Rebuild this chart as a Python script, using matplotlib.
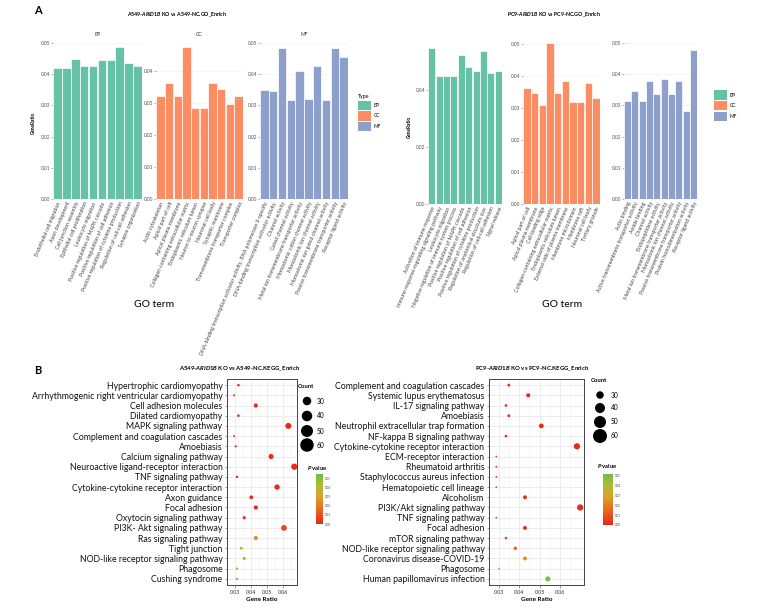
import numpy as np
import matplotlib
matplotlib.use('Agg')
import matplotlib.pyplot as plt
from matplotlib.patches import Patch
from matplotlib.colors import LinearSegmentedColormap, Normalize
from matplotlib.cm import ScalarMappable

plt.rcParams['font.family'] = ['Lato', 'DejaVu Sans']
plt.rcParams['mathtext.fontset'] = 'custom'
plt.rcParams['mathtext.rm'] = 'Lato:bold'
plt.rcParams['mathtext.it'] = 'Lato:bold:italic'
plt.rcParams['mathtext.bf'] = 'Lato:bold'

W, H = 761, 615

## GO enrichment, A549
a549_bp_terms = ['Endothelial cell migration', 'Axon development', 'Cell junction assembly',
                 'Epithelial cell proliferation', 'Leukocyte migration',
                 'Positive regulation of MAPK cascade', 'Positive regulation of cell adhesion',
                 'Positive regulation of cytokine production', 'Regulation of cell-cell adhesion',
                 'Synapse organization']
a549_bp_ratio = [0.0420, 0.0420, 0.0450, 0.0427, 0.0427, 0.0446, 0.0446, 0.0488, 0.0436, 0.0427]
a549_cc_terms = ['Actin cytoskeleton', 'Apical part of cell', 'Apical plasma membrane',
                 'Collagen-containing extracellular matrix', 'Endoplasmic reticulum lumen',
                 'Neuron to neuron synapse', 'Neuronal cell body', 'Synaptic membrane',
                 'Transmembrane transporter complex', 'Transporter complex']
a549_cc_ratio = [0.0321, 0.0363, 0.0321, 0.0474, 0.0283, 0.0283, 0.0363, 0.0344, 0.0297, 0.0321]
a549_mf_terms = ['DNA-binding transcription activator activity, RNA polymerase II-specific',
                 'DNA-binding transcription activator activity', 'Channel activity',
                 'Gated channel activity', 'Metal ion transmembrane transporter activity',
                 'Monoatomic cation channel activity', 'Monoatomic ion channel activity',
                 'Monoatomic ion gated channel activity', 'Passive transmembrane transporter activity',
                 'Receptor ligand activity']
a549_mf_ratio = [0.0350, 0.0345, 0.0483, 0.0316, 0.0409, 0.0322, 0.0427, 0.0316, 0.0483, 0.0455]

## GO enrichment, PC9
pc9_bp_terms = ['Activation of immune response', 'Immune response-regulating signaling pathway',
                'Leukocyte migration', 'Negative regulation of immune system process',
                'Positive regulation of MAPK cascade', 'Positive regulation of cell adhesion',
                'Positive regulation of cytokine production', 'Regulation of anatomical structure size',
                'Regulation of cell-cell adhesion', 'Signal release']
pc9_bp_ratio = [0.0546, 0.0450, 0.0450, 0.0450, 0.0522, 0.0481, 0.0467, 0.0538, 0.0458, 0.0467]
pc9_cc_terms = ['Apical part of cell', 'Apical plasma membrane', 'Cell leading edge',
                'Collagen-containing extracellular matrix', 'Endoplasmic reticulum lumen',
                'External side of plasma membrane', 'Membrane microdomain', 'Membrane raft',
                'Neuronal cell body', 'Tertiary granule']
pc9_cc_ratio = [0.0363, 0.0347, 0.0309, 0.0502, 0.0347, 0.0385, 0.0317, 0.0317, 0.0378, 0.0332]
pc9_mf_terms = ['Actin binding', 'Active transmembrane transporter activity', 'Amide binding',
                'Channel activity', 'Endopeptidase activity',
                'Metal ion transmembrane transporter activity', 'Monoatomic ion channel activity',
                'Passive transmembrane transporter activity', 'Protein homodimerization activity',
                'Receptor ligand activity']
pc9_mf_ratio = [0.0314, 0.0346, 0.0314, 0.0377, 0.0338, 0.0385, 0.0338, 0.0377, 0.0283, 0.0479]

## KEGG enrichment, A549 (top to bottom)
a549_kegg_terms = ['Hypertrophic cardiomyopathy', 'Arrhythmogenic right ventricular cardiomyopathy',
                   'Cell adhesion molecules', 'Dilated cardiomyopathy', 'MAPK signaling pathway',
                   'Complement and coagulation cascades', 'Amoebiasis', 'Calcium signaling pathway',
                   'Neuroactive ligand-receptor interaction', 'TNF signaling pathway',
                   'Cytokine-cytokine receptor interaction', 'Axon guidance', 'Focal adhesion',
                   'Oxytocin signaling pathway', 'PI3K- Akt signaling pathway', 'Ras signaling pathway',
                   'Tight junction', 'NOD-like receptor signaling pathway', 'Phagosome', 'Cushing syndrome']
a549_kegg_ratio = [0.0321, 0.0294, 0.0429, 0.0321, 0.0631, 0.0294, 0.0304, 0.0524, 0.0668, 0.0312,
                   0.0561, 0.0401, 0.0429, 0.0357, 0.0604, 0.0429, 0.0339, 0.0357, 0.0312, 0.0312]
a549_kegg_count = [29, 26, 39, 29, 57, 26, 27, 47, 60, 28, 50, 36, 39, 32, 54, 39, 30, 32, 28, 28]
a549_kegg_p = [0.001, 0.001, 0.001, 0.001, 0.001, 0.001, 0.001, 0.001, 0.001, 0.001,
               0.001, 0.001, 0.001, 0.002, 0.008, 0.026, 0.035, 0.039, 0.044, 0.048]

## KEGG enrichment, PC9 (top to bottom)
pc9_kegg_terms = ['Complement and coagulation cascades', 'Systemic lupus erythematosus',
                  'IL-17 signaling pathway', 'Amoebiasis', 'Neutrophil extracellular trap formation',
                  'NF-kappa B signaling pathway', 'Cytokine-cytokine receptor interaction',
                  'ECM-receptor interaction', 'Rheumatoid arthritis', 'Staphylococcus aureus infection',
                  'Hematopoietic cell lineage', 'Alcoholism', 'PI3K/Akt signaling pathway',
                  'TNF signaling pathway', 'Focal adhesion', 'mTOR signaling pathway',
                  'NOD-like receptor signaling pathway', 'Coronavirus disease-COVID-19',
                  'Phagosome', 'Human papillomavirus infection']
pc9_kegg_ratio = [0.0348, 0.0444, 0.0334, 0.0348, 0.0509, 0.0334, 0.0685, 0.0286, 0.0286, 0.0286,
                  0.0286, 0.0428, 0.0701, 0.0286, 0.0428, 0.0334, 0.0380, 0.0428, 0.0300, 0.0541]
pc9_kegg_count = [30, 38, 29, 30, 44, 29, 59, 25, 25, 25, 25, 37, 60, 25, 37, 29, 33, 37, 26, 47]
pc9_kegg_p = [0.001, 0.001, 0.001, 0.001, 0.001, 0.001, 0.001, 0.001, 0.001, 0.001,
              0.001, 0.001, 0.001, 0.001, 0.002, 0.008, 0.013, 0.025, 0.030, 0.050]

count_levels = [30, 40, 50, 60]
type_names = ['BP', 'CC', 'MF']
type_colors = ['#66C2A5', '#FC8D62', '#8DA0CB']

pcmap = LinearSegmentedColormap.from_list('pval', [(0, '#e8261d'), (0.28, '#e8661e'),
                                                   (0.55, '#d9a126'), (0.78, '#aebb36'),
                                                   (1, '#6cbd45')])

fig = plt.figure(figsize=(W / 100, H / 100), dpi=100)


def px_axes(x0, y0, x1, y1):
    return fig.add_axes([x0 / W, 1 - y1 / H, (x1 - x0) / W, (y1 - y0) / H])


def ftext(x, y, s, **kw):
    fig.text(x / W, 1 - y / H, s, **kw)


def go_facet(x0, x1, top, bottom, terms, ratio, color, ymax, yticks, strip=None):
    ax = px_axes(x0, top, x1, bottom)
    n = len(terms)
    ax.bar(np.arange(n), ratio, width=0.96, color=color, edgecolor='white', linewidth=0.5, zorder=2)
    ax.set_xlim(-0.5, n - 0.5)
    ax.set_ylim(0, ymax)
    ax.set_xticks(np.arange(n))
    ax.set_xticklabels(terms, rotation=67, ha='right', va='top', rotation_mode='anchor',
                       fontsize=3.8, color='#444444')
    ax.set_yticks(yticks)
    ax.set_yticklabels(['%.2f' % t for t in yticks], fontsize=3.5, color='#555555')
    ax.tick_params(axis='x', length=0, pad=1.5)
    ax.tick_params(axis='y', length=1.2, width=0.4, pad=0.8, color='#777777')
    for s in ax.spines.values():
        s.set_visible(False)
    ax.yaxis.grid(True, color='#eeeeee', lw=0.4, zorder=0)
    if strip:
        ax.text(0.5, 1.02, strip, transform=ax.transAxes, ha='center', va='bottom',
                fontsize=3.6, color='#333333')
    return ax


# ---- Panel A ----
ftext(38, 10, 'A', fontsize=8, fontweight='bold', ha='center', va='center')

ftext(177, 15, r'A549-$ARID1B$ KO vs A549-NC.GO_Enrich', fontsize=3.8, fontweight='bold',
      ha='center', va='center')
go_facet(53, 142, 40, 199, a549_bp_terms, a549_bp_ratio, type_colors[0], 0.051,
         [0, 0.01, 0.02, 0.03, 0.04, 0.05], 'BP')
go_facet(156, 243, 40, 199, a549_cc_terms, a549_cc_ratio, type_colors[1], 0.0497,
         [0, 0.01, 0.02, 0.03, 0.04], 'CC')
go_facet(260, 348, 40, 199, a549_mf_terms, a549_mf_ratio, type_colors[2], 0.051,
         [0, 0.01, 0.02, 0.03, 0.04, 0.05], 'MF')
ftext(33, 123, 'GeneRatio', fontsize=3.4, fontweight='bold', rotation=90, ha='center', va='center')
ftext(154, 304, 'GO term', fontsize=7.5, ha='center', va='center')

type_handles = [Patch(facecolor=c, edgecolor='none') for c in type_colors]
fig.legend(type_handles, type_names, loc='upper left', bbox_to_anchor=(354 / W, 1 - 90 / H),
           frameon=False, fontsize=3.5, title='Type', title_fontsize=3.8, handlelength=2.6,
           handleheight=2.6, labelspacing=0.25, handletextpad=0.6, alignment='left')

ftext(554, 15, r'PC9-$ARID1B$ KO vs PC9-NC.GO_Enrich', fontsize=3.8, fontweight='bold',
      ha='center', va='center')
go_facet(428, 502, 40, 204, pc9_bp_terms, pc9_bp_ratio, type_colors[0], 0.0575,
         [0, 0.02, 0.04])
go_facet(523, 600, 40, 204, pc9_cc_terms, pc9_cc_ratio, type_colors[1], 0.0512,
         [0, 0.01, 0.02, 0.03, 0.04, 0.05])
go_facet(624, 697, 40, 199, pc9_mf_terms, pc9_mf_ratio, type_colors[2], 0.051,
         [0, 0.01, 0.02, 0.03, 0.04, 0.05])
ftext(409, 127, 'GeneRatio', fontsize=3.4, fontweight='bold', rotation=90, ha='center', va='center')
ftext(562, 304, 'GO term', fontsize=7.5, ha='center', va='center')
fig.legend(type_handles, type_names, loc='upper left', bbox_to_anchor=(710 / W, 1 - 86 / H),
           frameon=False, fontsize=3.5, handlelength=2.6, handleheight=2.6,
           labelspacing=0.25, handletextpad=0.6)


# ---- Panel B ----
def kegg_panel(x0, x1, top, bottom, terms, ratio, count, pval, xlim, vmax):
    ax = px_axes(x0, top, x1, bottom)
    n = len(terms)
    y = n - 1 - np.arange(n)
    c = np.array(count, dtype=float)
    sizes = 1.5 + (c - 25) / (60 - 25) * 19
    ax.scatter(ratio, y, s=sizes, c=pval, cmap=pcmap, vmin=0, vmax=vmax,
               edgecolors='none', zorder=3)
    ax.set_xlim(*xlim)
    ax.set_ylim(-0.6, n - 0.4)
    ax.set_yticks(y)
    ax.set_yticklabels(terms, fontsize=6.35, color='#111111')
    ax.set_xticks([0.03, 0.04, 0.05, 0.06])
    ax.set_xticklabels(['0.03', '0.04', '0.05', '0.06'], fontsize=3.8, color='#333333')
    ax.set_xticks([0.025, 0.035, 0.045, 0.055, 0.065], minor=True)
    ax.tick_params(axis='both', which='major', length=1.8, width=0.4, pad=1.5, color='#555555')
    ax.tick_params(axis='both', which='minor', length=0)
    ax.grid(True, which='major', color='#e6e6e6', lw=0.5, zorder=0)
    ax.grid(True, which='minor', axis='x', color='#f1f1f1', lw=0.4, zorder=0)
    for s in ax.spines.values():
        s.set_color('#444444')
        s.set_linewidth(0.7)
    ax.set_xlabel('Gene Ratio', fontsize=4.6, fontweight='bold', labelpad=1.5)
    return ax


def count_legend(xc, ytop, ys, diam, label_x):
    ax = px_axes(xc - 12, ytop - 8, label_x + 16, ys[-1] + 9)
    ax.set_xlim(xc - 12, label_x + 16)
    ax.set_ylim(ys[-1] + 9, ytop - 8)
    ax.axis('off')
    ax.text(xc - 9, ytop, 'Count', fontsize=4.2, fontweight='bold', va='center', ha='left')
    ax.scatter([xc] * len(count_levels), ys, s=[(d * 0.72) ** 2 for d in diam], color='black',
               edgecolors='none')
    for yy, lv in zip(ys, count_levels):
        ax.text(label_x, yy, str(lv), fontsize=4.8, va='center', ha='left')


def p_legend(x0, x1, top, bottom, title_xy, vmax):
    ftext(title_xy[0], title_xy[1], r'$P$ value', fontsize=4.2, fontweight='bold',
          ha='left', va='center')
    cax = px_axes(x0, top, x1, bottom)
    cb = fig.colorbar(ScalarMappable(norm=Normalize(0, vmax), cmap=pcmap), cax=cax)
    cb.set_ticks([0, 0.01, 0.02, 0.03, 0.04, 0.05])
    cb.set_ticklabels(['0.00', '0.01', '0.02', '0.03', '0.04', '0.05'])
    cb.ax.tick_params(labelsize=2.2, length=0, pad=1.2, colors='#444444')
    cb.outline.set_visible(False)


ftext(38, 370, 'B', fontsize=8, fontweight='bold', ha='center', va='center')

ftext(240, 369, r'A549-$ARID1B$ KO vs A549-NC.KEGG_Enrich', fontsize=4.3, fontweight='bold',
      ha='center', va='center')
kegg_panel(227, 297, 379, 585, a549_kegg_terms, a549_kegg_ratio, a549_kegg_count, a549_kegg_p,
           (0.0275, 0.0685), 0.0555)
count_legend(307, 387, [401, 416, 431, 445], [8.5, 10.5, 12, 13.5], 317)
p_legend(316, 323, 474, 524, (307, 468), 0.0555)

ftext(532, 369, r'PC9-$ARID1B$ KO vs PC9-NC.KEGG_Enrich', fontsize=4.3, fontweight='bold',
      ha='center', va='center')
kegg_panel(489, 584, 379, 585, pc9_kegg_terms, pc9_kegg_ratio, pc9_kegg_count, pc9_kegg_p,
           (0.0265, 0.072), 0.052)
count_legend(600, 380, [395, 408, 422, 436], [7.5, 10, 12, 14], 611)
p_legend(603, 613, 474, 525, (597, 466), 0.052)

fig.savefig('out.png', dpi=100)
